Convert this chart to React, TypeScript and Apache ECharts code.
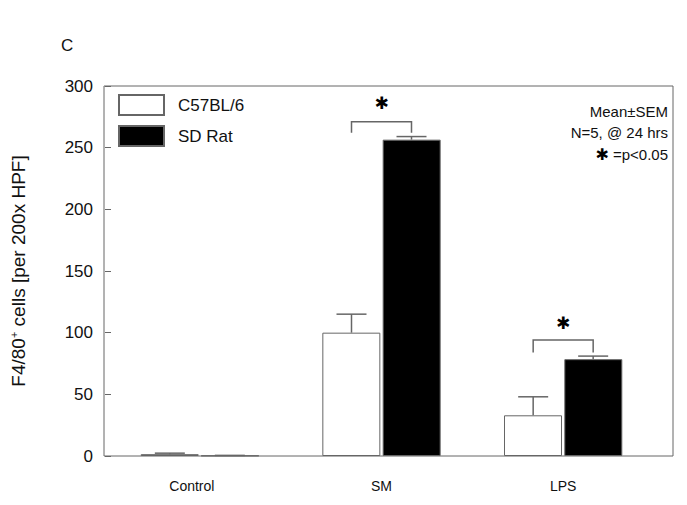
import React, { useEffect, useRef } from "react";
import * as echarts from "echarts";

const categories = ["Control", "SM", "LPS"];
const c57Mean = [1.5, 100, 33];
const c57Sem = [0.8, 15, 15];
const sdMean = [0.3, 256.5, 78.5];
const sdSem = [0.2, 2.5, 2.5];
// significance brackets: [categoryIndex, bracketTop, bracketEnd, starValue]
const sigBrackets = [
  [1, 271, 262, 286],
  [2, 94, 84, 108],
];
const yTicks = { min: 0, max: 300, interval: 50 };

const FONT = "'Liberation Sans', Arial, Helvetica, sans-serif";
const GRAY = "#666";

export default function App() {
  const ref = useRef<HTMLDivElement>(null);
  useEffect(() => {
    if (!ref.current) return;
    const chart = echarts.init(ref.current, undefined, { renderer: "svg" });
    const HALF = 30; // offset of each bar centre from the category centre

    const errData = [
      ...c57Mean.map((m, i) => [i, m, c57Sem[i], -1]),
      ...sdMean.map((m, i) => [i, m, sdSem[i], 1]),
    ];

    chart.setOption({
      animation: false,
      textStyle: { fontFamily: FONT },
      grid: { left: 108, right: 33, top: 86, bottom: 49, containLabel: false },
      legend: {
        orient: "vertical",
        left: 113,
        top: 89,
        itemWidth: 45,
        itemHeight: 20,
        itemGap: 9,
        icon: "rect",
        textStyle: { fontSize: 17, color: "#111", fontFamily: FONT, padding: [0, 0, 0, 9] },
        data: ["C57BL/6", "SD Rat"],
      },
      xAxis: {
        type: "category",
        data: categories.map((c, i) =>
          i === 0 ? { value: c, textStyle: { padding: [0, 16, 0, 0] } } : c
        ),
        axisLine: { show: false },
        axisTick: { show: false },
        axisLabel: { fontSize: 14, color: "#111", margin: 23, fontFamily: FONT },
      },
      yAxis: {
        type: "value",
        min: yTicks.min,
        max: yTicks.max,
        interval: yTicks.interval,
        offset: 4,
        splitLine: { show: false },
        axisLine: { show: false },
        axisTick: { show: true, inside: true, length: 6, lineStyle: { color: GRAY } },
        axisLabel: { fontSize: 17, color: "#111", margin: 12, fontFamily: FONT },
        name: "F4/80{sup|+} cells [per 200x HPF]",
        nameLocation: "middle",
        nameGap: 77,
        nameRotate: 90,
        nameTextStyle: {
          fontSize: 19,
          color: "#111",
          fontFamily: FONT,
          rich: { sup: { fontSize: 11, verticalAlign: "top", color: "#111", padding: [0, 0, 9, 0] } },
        },
      },
      graphic: [
        {
          type: "rect",
          shape: { x: 104, y: 86, width: 569, height: 370 },
          style: { fill: "none", stroke: GRAY, lineWidth: 1 },
          z: 10,
        },
        {
          type: "text",
          x: 61,
          y: 37,
          style: { text: "C", fill: "#111", font: `17px ${FONT}` },
        },
        {
          type: "text",
          x: 668,
          y: 111,
          style: { text: "Mean±SEM", fill: "#111", font: `15px ${FONT}`, align: "right", verticalAlign: "middle" },
        },
        {
          type: "text",
          x: 668,
          y: 132,
          style: { text: "N=5, @ 24 hrs", fill: "#111", font: `15px ${FONT}`, align: "right", verticalAlign: "middle" },
        },
        {
          type: "text",
          x: 668,
          y: 154,
          style: {
            text: "{s|✱} =p<0.05",
            fill: "#111",
            font: `15px ${FONT}`,
            align: "right",
            verticalAlign: "middle",
            rich: { s: { fontSize: 16, fontFamily: "DejaVu Sans", fontWeight: "bold", fill: "#000" } },
          },
        },
      ],
      series: [
        {
          name: "C57BL/6",
          type: "bar",
          data: c57Mean,
          barWidth: 58,
          barGap: "4%",
          itemStyle: { color: "#fff", borderColor: GRAY, borderWidth: 1 },
        },
        {
          name: "SD Rat",
          type: "bar",
          data: sdMean,
          barWidth: 58,
          barGap: "4%",
          itemStyle: { color: "#000", borderColor: GRAY, borderWidth: 1 },
        },
        {
          type: "custom",
          data: errData,
          encode: { x: 0, y: 1 },
          z: 5,
          renderItem: (params: any, api: any) => {
            const idx = api.value(0);
            const mean = api.value(1);
            const err = api.value(2);
            const side = api.value(3);
            const base = api.coord([idx, mean]);
            const top = api.coord([idx, mean + err]);
            const x = base[0] + side * HALF;
            const st = { stroke: GRAY, lineWidth: 1.5 };
            return {
              type: "group",
              children: [
                { type: "line", shape: { x1: x, y1: base[1], x2: x, y2: top[1] }, style: st },
                { type: "line", shape: { x1: x - 15, y1: top[1], x2: x + 15, y2: top[1] }, style: st },
              ],
            };
          },
        },
        {
          type: "custom",
          data: sigBrackets,
          encode: { x: 0, y: 1 },
          z: 5,
          renderItem: (params: any, api: any) => {
            const idx = api.value(0);
            const topP = api.coord([idx, api.value(1)]);
            const endP = api.coord([idx, api.value(2)]);
            const starP = api.coord([idx, api.value(3)]);
            const xL = topP[0] - HALF;
            const xR = topP[0] + HALF;
            return {
              type: "group",
              children: [
                {
                  type: "polyline",
                  shape: { points: [[xL, endP[1]], [xL, topP[1]], [xR, topP[1]], [xR, endP[1]]] },
                  style: { stroke: GRAY, lineWidth: 1.5, fill: "none" },
                },
                {
                  type: "text",
                  style: {
                    text: "✱",
                    x: topP[0],
                    y: starP[1],
                    align: "center",
                    verticalAlign: "middle",
                    fontSize: 17,
                    fontFamily: "DejaVu Sans",
                    fontWeight: "bold",
                    fill: "#000",
                  },
                },
              ],
            };
          },
        },
      ],
    });
    return () => chart.dispose();
  }, []);
  return (
    <div
      ref={ref}
      style={{ position: "fixed", left: 0, top: 0, width: 687, height: 505, background: "#fff" }}
    />
  );
}
